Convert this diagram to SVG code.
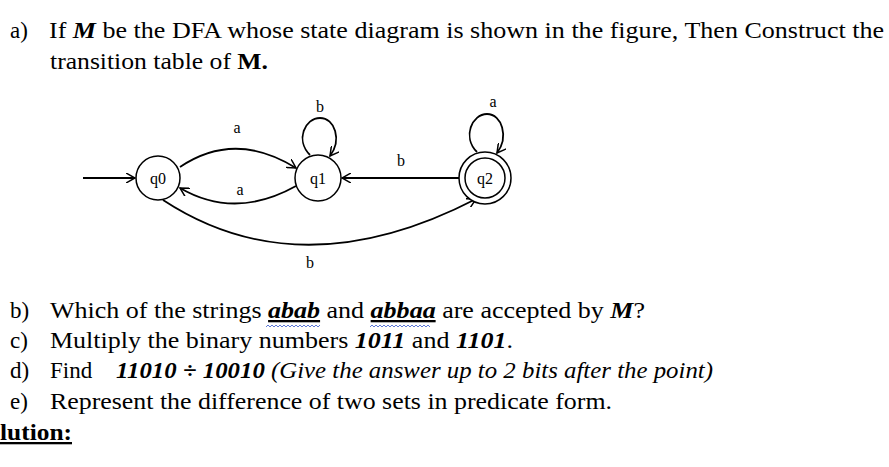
<svg xmlns="http://www.w3.org/2000/svg" width="889" height="467" viewBox="0 0 889 467">
<style>
text{font-family:"Liberation Serif","Times New Roman",serif;fill:#000}
.t{font-size:23px}
.l{font-size:16px}
.bi{font-weight:bold;font-style:italic}
.st{fill:#fff;stroke:#000;stroke-width:1.5}
.e{fill:none;stroke:#000;stroke-width:1.8;marker-end:url(#ah)}
.w{fill:none;stroke:#3355cc;stroke-width:0.8}
</style>
<defs>
<marker id="ah" viewBox="0 0 10 10" refX="9" refY="5" markerWidth="10" markerHeight="10" orient="auto" markerUnits="userSpaceOnUse">
<path d="M0,0 L9,5 L0,10" fill="none" stroke="#000" stroke-width="1.5"/>
</marker>
</defs>
<rect width="889" height="467" fill="#fff"/>
<text class="t" x="10" y="38">a)</text>
<text class="t" x="49" y="38" textLength="835" lengthAdjust="spacingAndGlyphs">If <tspan class="bi">M</tspan> be the DFA whose state diagram is shown in the figure, Then Construct the</text>
<text class="t" x="50" y="69" textLength="218" lengthAdjust="spacingAndGlyphs">transition table of <tspan font-weight="bold">M.</tspan></text>
<g id="connectors">
<path class="e" d="M83,178 L135,178"/>
<path class="e" d="M180,167 Q235,130 296,168"/>
<path class="e" d="M296,186 Q235,220 180,188"/>
<path class="e" d="M163,200 Q300,290 476,199"/>
<path class="e" d="M460,178 L342,178"/>
<path class="e" d="M310,155 C295,140 305,118 320,118 C335,118 342,140 330,156"/>
<path class="e" d="M477,152 C462,137 472,114 487,114 C502,114 509,137 497,153"/>
</g>
<g id="labels">
<text class="l" x="237" y="133" text-anchor="middle">a</text>
<text class="l" x="240" y="195" text-anchor="middle">a</text>
<text class="l" x="320" y="112" text-anchor="middle">b</text>
<text class="l" x="493" y="107" text-anchor="middle">a</text>
<text class="l" x="401" y="166" text-anchor="middle">b</text>
<text class="l" x="310" y="268" text-anchor="middle">b</text>
</g>
<g id="q0"><circle class="st" cx="158" cy="178" r="22"/><text class="l" x="158" y="184" text-anchor="middle">q0</text></g>
<g id="q1"><circle class="st" cx="318" cy="178" r="23"/><text class="l" x="318" y="184" text-anchor="middle">q1</text></g>
<g id="q2"><circle class="st" cx="485" cy="178" r="26"/><circle class="st" cx="485" cy="178" r="20"/><text class="l" x="485" y="184" text-anchor="middle">q2</text></g>
<text class="t" x="10" y="318">b)</text>
<text class="t" x="50" y="318" textLength="595" lengthAdjust="spacingAndGlyphs">Which of the strings <tspan class="bi" text-decoration="underline">abab</tspan> and <tspan class="bi" text-decoration="underline">abbaa</tspan> are accepted by <tspan class="bi">M</tspan>?</text>
<path class="w" d="M266,327 l2,-2 l2,2 l2,-2 l2,2 l2,-2 l2,2 l2,-2 l2,2 l2,-2 l2,2 l2,-2 l2,2 l2,-2 l2,2 l2,-2 l2,2 l2,-2 l2,2 l2,-2 l2,2 l2,-2 l2,2 l2,-2 l2,2 l2,-2 l2,2 l2,-2"/>
<path class="w" d="M370,327 l2,-2 l2,2 l2,-2 l2,2 l2,-2 l2,2 l2,-2 l2,2 l2,-2 l2,2 l2,-2 l2,2 l2,-2 l2,2 l2,-2 l2,2 l2,-2 l2,2 l2,-2 l2,2 l2,-2 l2,2 l2,-2 l2,2 l2,-2 l2,2 l2,-2 l2,2 l2,-2 l2,2"/>
<text class="t" x="10" y="348">c)</text>
<text class="t" x="50" y="348" textLength="463" lengthAdjust="spacingAndGlyphs">Multiply the binary numbers <tspan class="bi">1011</tspan> and <tspan class="bi">1101</tspan>.</text>
<text class="t" x="10" y="378">d)</text>
<text class="t" x="50" y="378">Find</text>
<text class="t" x="116" y="378" textLength="597" lengthAdjust="spacingAndGlyphs"><tspan class="bi">11010 ÷ 10010</tspan> <tspan font-style="italic">(Give the answer up to 2 bits after the point)</tspan></text>
<text class="t" x="10" y="409">e)</text>
<text class="t" x="50" y="409" textLength="562" lengthAdjust="spacingAndGlyphs">Represent the difference of two sets in predicate form.</text>
<text class="t" x="0" y="440" textLength="72" lengthAdjust="spacingAndGlyphs" font-weight="bold" text-decoration="underline">lution:</text>
</svg>
